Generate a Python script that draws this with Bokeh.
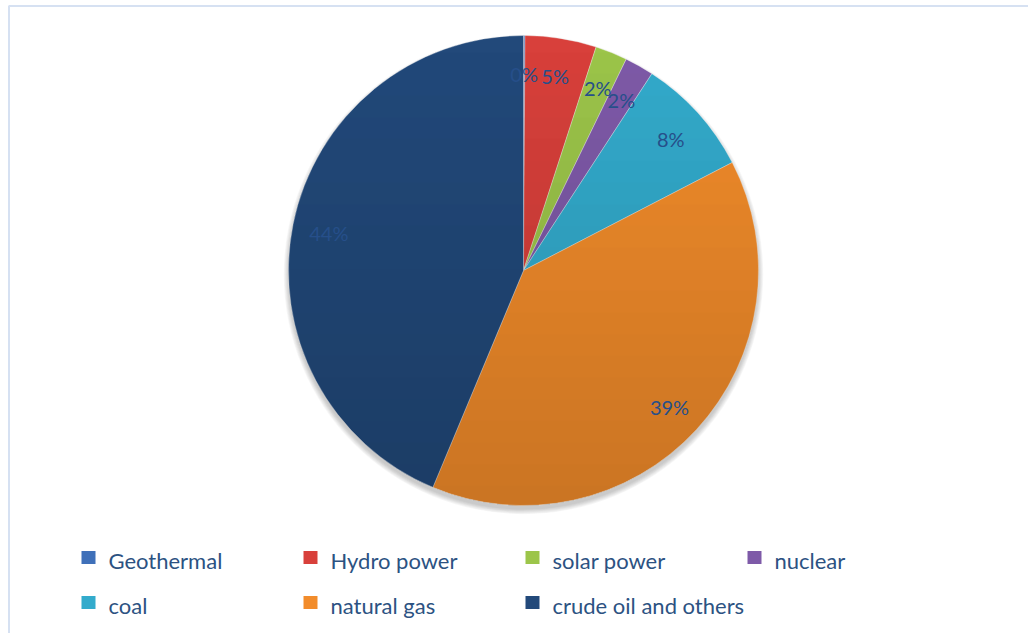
import math
from bokeh.plotting import figure
from bokeh.models import Range1d, ColumnDataSource
from bokeh.core.properties import value
from bokeh.embed import file_html
from bokeh.resources import INLINE

# Energy mix shares (percent)
sources = ["Geothermal", "Hydro power", "solar power", "nuclear",
           "coal", "natural gas", "crude oil and others"]
shares = [0.1, 4.9, 2.2, 2.0, 8.2, 38.9, 43.7]
colors = ["#3f70b9", "#d8403b", "#9cc54a", "#7e5aa8",
          "#33abcc", "#f28c2b", "#22497a"]

W, H = 1028, 633
CX, CY, R = 523, H - 270, 235
FONT = "Lato"
TEXT_COLOR = "#264f8a"

total = sum(shares)
starts, ends, lx, ly, labels = [], [], [], [], []
cum = 0.0
for s in shares:
    f0 = cum / total
    cum += s
    f1 = cum / total
    a0 = math.pi / 2 - 2 * math.pi * f0
    a1 = math.pi / 2 - 2 * math.pi * f1
    starts.append(a0)
    ends.append(a1)
    mid = (a0 + a1) / 2
    lx.append(CX + 0.845 * R * math.cos(mid))
    ly.append(CY + 0.845 * R * math.sin(mid))
    labels.append(f"{round(s / total * 100)}%")

src = ColumnDataSource(dict(name=sources, share=shares, color=colors,
                            start=starts, end=ends, lx=lx, ly=ly, label=labels))

p = figure(width=W, height=H, x_range=Range1d(0, W), y_range=Range1d(0, H),
           output_backend="svg", toolbar_location=None, min_border=0)
p.axis.visible = False
p.grid.visible = False
p.outline_line_color = None
p.background_fill_color = "white"
p.border_fill_color = "white"

# chart area frame (runs off the right and bottom edges)
p.quad(left=8.5, right=W + 20, top=H - 5.5, bottom=-20,
       fill_color=None, line_color="#d6e1f2", line_width=2)

# soft drop shadow under the pie
for k in range(7):
    p.circle(x=CX, y=CY - 4, radius=R + k * 0.8, radius_units="screen",
             fill_color="#000000", fill_alpha=0.03, line_color=None)

p.wedge(x=CX, y=CY, radius=R, radius_units="screen",
        start_angle="start", end_angle="end", direction="clock",
        fill_color="color", line_color="white", line_alpha=0.4,
        line_width=0.8, source=src)

# vertical shading across the pie: lighter at the top, darker at the bottom
band_l, band_r, band_t, band_b, band_a = [], [], [], [], []
for i in range(2 * R):
    top = CY + R - i
    bot = top - 1
    dy = (top + bot) / 2 - CY
    half = math.sqrt(max(R * R - dy * dy, 0.0))
    band_l.append(CX - half)
    band_r.append(CX + half)
    band_t.append(top)
    band_b.append(bot)
    band_a.append(0.17 * i / (2 * R))
p.quad(left=band_l, right=band_r, top=band_t, bottom=band_b,
       fill_color="#000000", fill_alpha=band_a, line_color=None)

p.text(x="lx", y="ly", text="label", source=src,
       text_align="center", text_baseline="middle", y_offset=2,
       text_font=value(FONT), text_font_size="20px", text_color=TEXT_COLOR)

# legend: 4 columns, 2 rows below the pie
ncol = 4
leg_x = [88 + 222 * (i % ncol) for i in range(len(sources))]
leg_y = [H - (557 + 45 * (i // ncol)) for i in range(len(sources))]
leg = ColumnDataSource(dict(x=leg_x, y=leg_y, tx=[x + 20 for x in leg_x],
                            name=sources, color=colors))
p.rect(x="x", y="y", width=14, height=13, width_units="screen",
       height_units="screen", fill_color="color", line_color=None,
       source=leg)
p.text(x="tx", y="y", text="name", source=leg, text_align="left",
       text_baseline="middle", text_font=value(FONT), text_font_size="22px",
       text_color="#2c5282", y_offset=3)

open("out.html", "w").write(file_html(p, INLINE))
